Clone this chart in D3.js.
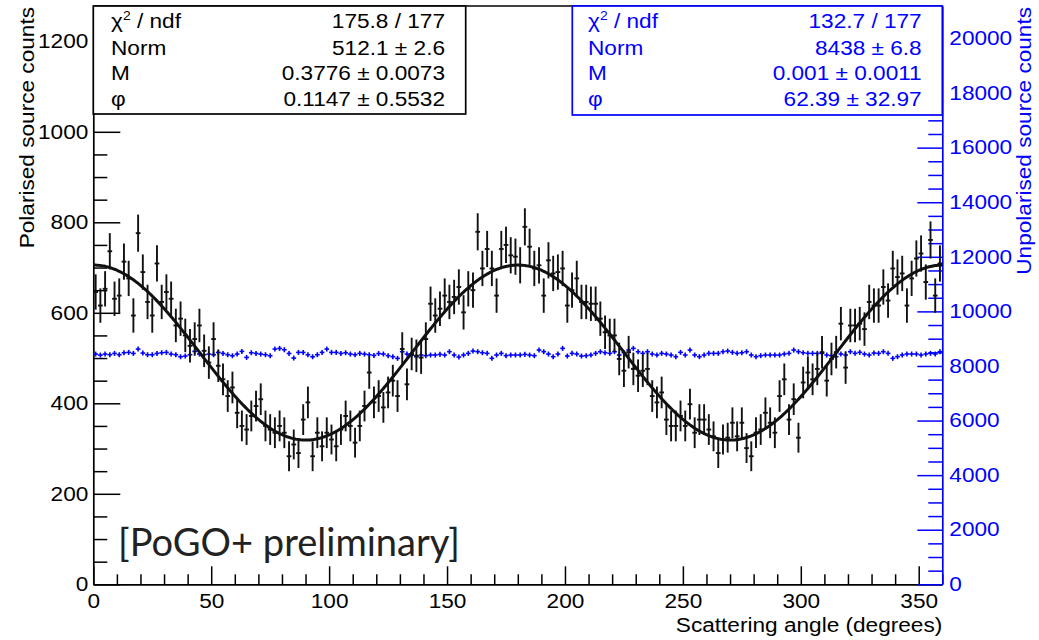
<!DOCTYPE html>
<html><head><meta charset="utf-8">
<script src="https://cdn.jsdelivr.net/npm/d3@7"></script>
<style>body{margin:0;background:#fff;} svg{display:block;}</style>
</head><body><svg id="c" width="1039" height="640"></svg>
<script>
// ---- data ----
const binWidth = 2;
const binCenters = d3.range(1, 360, binWidth);
const polarisedCounts = [
646,616,653,736,631,638,713,676,594,776,
690,624,594,709,624,646,631,572,587,550,
527,542,572,516,490,542,483,453,416,435,
379,350,342,372,394,409,350,342,335,350,
335,283,309,290,364,402,283,335,305,335,
320,305,342,372,350,313,350,394,468,402,
416,
391,424,450,416,520,442,509,505,501,542,
620,594,609,638,624,635,657,601,653,650,
779,698,741,698,638,741,750,727,724,705,
790,746,698,705,638,716,687,690,698,616,
650,676,624,624,620,620,587,557,550,550,
498,472,513,476,461,472,476,416,402,424,
364,350,350,372,350,398,335,364,364,342,
327,290,320,324,357,327,357,301,283,335,
342,379,357,335,416,453,364,409,324,446,
468,453,476,513,450,498,513,576,479,572,
572,576,564,624,616,616,657,627,698,679,
687,616,676,720,731,668,761,638,709];
const polarisedErrors = [
39,38,39,40,38,38,40,39,38,41,
39,38,38,40,38,39,38,37,38,37,
37,37,37,36,36,37,36,35,35,35,
34,34,34,34,34,35,34,34,34,34,
34,33,33,33,34,35,33,34,33,34,
33,33,34,34,34,33,34,34,36,35,
35,
34,35,35,35,37,35,36,36,36,37,
38,38,38,38,38,38,39,38,39,39,
41,39,40,39,38,40,40,40,40,40,
41,40,39,40,38,40,39,39,39,38,
39,39,38,38,38,38,38,37,37,37,
36,36,36,36,36,36,36,35,35,35,
34,34,34,34,34,34,34,34,34,34,
33,33,33,33,34,33,34,33,33,34,
34,34,34,34,35,35,34,35,33,35,
36,35,36,36,35,36,36,37,36,37,
37,37,37,38,38,38,39,38,39,39,
39,38,39,40,40,39,41,38,40];
const unpolarisedCounts = [
8436,8399,8436,8412,8460,8412,8485,8497,8460,8619,
8473,8412,8412,8460,8485,8497,8436,8412,8338,8363,
8412,8534,8436,8412,8436,8412,8497,8460,8412,8375,
8436,8534,8314,8485,8460,8436,8412,8375,8619,8643,
8595,8460,8290,8497,8497,8412,8338,8412,8497,8619,
8497,8497,8460,8485,8436,8412,8460,8436,8412,8387,
8455,
8438,8377,8340,8279,8523,8438,8401,8340,8401,8377,
8401,8401,8425,8401,8523,8401,8328,8401,8462,8547,
8523,8486,8462,8279,8401,8462,8377,8401,8401,8401,
8425,8401,8377,8584,8523,8438,8340,8438,8645,8364,
8462,8438,8364,8377,8401,8462,8523,8486,8462,8523,
8401,8486,8584,8645,8523,8462,8523,8438,8401,8462,
8438,8401,8340,8499,8401,8584,8401,8340,8401,8462,
8462,8462,8523,8547,8499,8462,8486,8523,8401,8340,
8377,8401,8401,8401,8401,8438,8462,8584,8523,8486,
8462,8462,8462,8462,8401,8377,8340,8438,8401,8523,
8462,8499,8438,8401,8474,8462,8523,8462,8279,8340,
8401,8438,8438,8438,8401,8438,8462,8438,8523];
const xTicks = [0,50,100,150,200,250,300,350];
const leftTicks = [0,200,400,600,800,1000,1200];
const rightTicks = [0,2000,4000,6000,8000,10000,12000,14000,16000,18000,20000];
const polFit = {norm:512.1, M:0.3776, phi:0.1147};
const statLabels = ["χ2 / ndf","Norm","M","φ"];
const statsPol = ["175.8 / 177","512.1 ± 2.6","0.3776 ± 0.0073","0.1147 ± 0.5532"];
const statsUnpol = ["132.7 / 177","8438 ± 6.8","0.001 ± 0.0011","62.39 ± 32.97"];
const titles = {x:"Scattering angle (degrees)", yl:"Polarised source counts", yr:"Unpolarised source counts"};
const label = "[PoGO+ preliminary]";

// ---- layout ----
const L=93.3,R=942.3,T=6,B=584.3;
const S=1.16, F=19.5, FONT="'Liberation Sans', Arial, sans-serif";
const BLUE="#0000ff";
const svg=d3.select("#c");
const x=d3.scaleLinear().domain([0,360]).range([L,R]);
const yL=d3.scaleLinear().domain([0,1278]).range([B,T]);
const yR=d3.scaleLinear().domain([0,21190]).range([B,T]);
const fmt=d3.format("d");

function stretchTexts(sel){
  sel.selectAll("text").each(function(){
    const t=d3.select(this); const xx=+t.attr("x")||0;
    t.attr("x",0).attr("transform",`translate(${xx},0) scale(${S},1)`);
  });
}
function styleAxis(g,color){
  g.selectAll("path").attr("stroke",color).attr("stroke-width",1.7);
  g.selectAll("line").attr("stroke",color).attr("stroke-width",1.5);
  g.selectAll("text").attr("fill",color).attr("font-family",FONT).attr("font-size",F);
}

// minor ticks
const minorX=d3.range(0,361,10).filter(v=>v%50!==0);
const minorL=d3.range(0,1278,50).filter(v=>v%200!==0);
const minorR=d3.range(0,21190,500).filter(v=>v%2000!==0);

svg.append("g").attr("transform",`translate(0,${B})`)
  .call(d3.axisBottom(x).tickValues(minorX).tickSize(-10).tickSizeOuter(0).tickFormat(""))
  .call(g=>{g.select("path").remove(); styleAxis(g,"#000");});
svg.append("g").attr("transform",`translate(${L},0)`)
  .call(d3.axisLeft(yL).tickValues(minorL).tickSize(-14).tickSizeOuter(0).tickFormat(""))
  .call(g=>{g.select("path").remove(); styleAxis(g,"#000");});
svg.append("g").attr("transform",`translate(${R},0)`)
  .call(d3.axisRight(yR).tickValues(minorR).tickSize(-14).tickSizeOuter(0).tickFormat(""))
  .call(g=>{g.select("path").remove(); styleAxis(g,BLUE);});

// major axes
const gx=svg.append("g").attr("transform",`translate(0,${B})`)
  .call(d3.axisBottom(x).tickValues(xTicks).tickFormat(fmt).tickSize(-18).tickSizeOuter(0).tickPadding(10));
styleAxis(gx,"#000"); stretchTexts(gx);
const gl=svg.append("g").attr("transform",`translate(${L},0)`)
  .call(d3.axisLeft(yL).tickValues(leftTicks).tickFormat(fmt).tickSize(-27).tickSizeOuter(0).tickPadding(5));
styleAxis(gl,"#000"); stretchTexts(gl);
const gr=svg.append("g").attr("transform",`translate(${R},0)`)
  .call(d3.axisRight(yR).tickValues(rightTicks).tickFormat(fmt).tickSize(-25).tickSizeOuter(0).tickPadding(7));
styleAxis(gr,BLUE); stretchTexts(gr);

// top frame line
svg.append("line").attr("x1",L).attr("x2",R).attr("y1",T).attr("y2",T).attr("stroke","#000").attr("stroke-width",1.7);

// unpolarised points (blue)
const gu=svg.append("g").attr("stroke",BLUE).attr("stroke-width",1.6);
unpolarisedCounts.forEach((v,i)=>{
  const c=binCenters[i], e=Math.sqrt(v);
  gu.append("line").attr("x1",x(c-binWidth/2)).attr("x2",x(c+binWidth/2)).attr("y1",yR(v)).attr("y2",yR(v));
  gu.append("line").attr("x1",x(c)).attr("x2",x(c)).attr("y1",yR(v-e)).attr("y2",yR(v+e));
});

// polarised points (black)
const gp=svg.append("g").attr("stroke","#111").attr("stroke-width",1.9);
polarisedCounts.forEach((v,i)=>{
  const c=binCenters[i], e=polarisedErrors[i];
  gp.append("line").attr("x1",x(c-binWidth/2)).attr("x2",x(c+binWidth/2)).attr("y1",yL(v)).attr("y2",yL(v));
  gp.append("line").attr("x1",x(c)).attr("x2",x(c)).attr("y1",yL(v-e)).attr("y2",yL(v+e));
});

// fit curve
const fitFn=a=>polFit.norm*(1+polFit.M*Math.cos(2*(a-polFit.phi)*Math.PI/180));
const fitPts=d3.range(0,360.01,0.5).map(a=>[a,fitFn(a)]);
svg.append("path").datum(fitPts)
  .attr("d",d3.line().x(d=>x(d[0])).y(d=>yL(d[1])))
  .attr("fill","none").attr("stroke","#111").attr("stroke-width",3);

// stat boxes
function statBox(x0,x1,y0,y1,vals,color,tx,vx){
  const g=svg.append("g");
  g.append("rect").attr("x",x0).attr("y",y0).attr("width",x1-x0).attr("height",y1-y0)
    .attr("fill","#fff").attr("stroke",color).attr("stroke-width",1.7);
  const base=[28,54.5,80,105.5];
  statLabels.forEach((lab,i)=>{
    const t=g.append("text").attr("transform",`translate(${tx},${base[i]}) scale(${S},1)`)
      .attr("font-family",FONT).attr("font-size",F).attr("fill",color);
    if(i===0){
      t.append("tspan").text("χ");
      t.append("tspan").attr("font-size",12).attr("dy",-8).text("2");
      t.append("tspan").attr("dy",8).text(" / ndf");
    } else t.text(lab);
    g.append("text").attr("transform",`translate(${vx},${base[i]}) scale(${S},1)`)
      .attr("text-anchor","end").attr("font-family",FONT).attr("font-size",F).attr("fill",color).text(vals[i]);
  });
}
statBox(L,465.7,T,114,statsPol,"#000",111,445);
statBox(572.3,R,T,115,statsUnpol,BLUE,588,921.7);

// axis titles
svg.append("text").attr("transform",`translate(${R},632) scale(${S},1)`).attr("text-anchor","end")
  .attr("font-family",FONT).attr("font-size",F).text(titles.x);
svg.append("text").attr("transform",`translate(34,${T+1}) rotate(-90) scale(${S},1)`).attr("text-anchor","end")
  .attr("font-family",FONT).attr("font-size",F).text(titles.yl);
svg.append("text").attr("transform",`translate(1031,${T+1}) rotate(-90) scale(${S},1)`).attr("text-anchor","end")
  .attr("font-family",FONT).attr("font-size",F).attr("fill",BLUE).text(titles.yr);

// label
svg.append("text").attr("x",118).attr("y",556).attr("font-family","Lato, 'Open Sans', sans-serif")
  .attr("font-size",38).attr("fill","#222").attr("textLength",342).attr("lengthAdjust","spacingAndGlyphs").text(label);
</script></body></html>
